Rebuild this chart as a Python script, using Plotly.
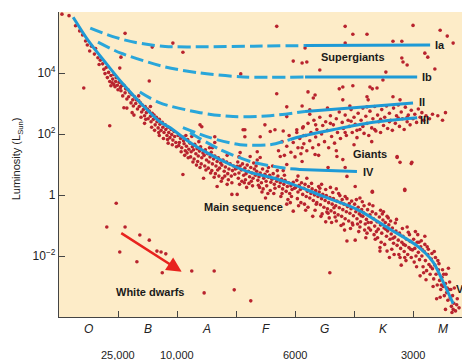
import plotly.graph_objects as go

# ---------------- data (x: spectral position, O=0..1, B=1..2, ...; y: log10 L/Lsun) -------------
spectral_classes = ["O", "B", "A", "F", "G", "K", "M"]
class_centers = [0.5, 1.5, 2.5, 3.5, 4.5, 5.5, 6.5]
boundary_ticks = [1, 2, 3, 4, 5, 6]
temp_positions = [1, 2, 4, 6]
temp_labels = ["25,000", "10,000", "6000", "3000"]
ytick_vals = [4, 2, 0, -2]
ytick_text = ["10<sup>4</sup>", "10<sup>2</sup>", "1", "10<sup>\u22122</sup>"]

# luminosity-class lines
ms_x = [0.24, 0.49, 0.78, 1.07, 1.41, 1.71, 1.88, 2.22, 2.56, 2.90, 3.24, 3.58, 3.92, 4.47, 5.05, 5.61, 6.07, 6.34, 6.51, 6.68]
ms_y = [5.83, 5.08, 4.36, 3.67, 2.96, 2.40, 2.21, 1.72, 1.33, 1.00, 0.74, 0.58, 0.38, -0.04, -0.47, -1.12, -1.67, -2.20, -2.85, -3.56]

ia_dash_x = [0.53, 0.9, 1.3, 1.8, 2.5, 3.3, 4.17]
ia_dash_y = [5.47, 5.2, 5.0, 4.87, 4.86, 4.88, 4.90]
ia_solid_x = [4.17, 6.29]
ia_solid_y = [4.90, 4.92]

ib_dash_x = [0.66, 1.05, 1.8, 2.39, 3.12, 4.17]
ib_dash_y = [5.01, 4.65, 4.20, 4.00, 3.87, 3.87]
ib_solid_x = [4.17, 6.07]
ib_solid_y = [3.87, 3.87]

ii_dash_x = [1.37, 1.71, 2.39, 2.95, 3.58, 4.17]
ii_dash_y = [3.38, 3.02, 2.70, 2.57, 2.60, 2.74]
ii_solid_x = [4.17, 5.1, 6.0]
ii_solid_y = [2.74, 2.88, 3.02]

iii_dash_x = [2.10, 2.56, 3.07, 3.58, 3.92]
iii_dash_y = [2.21, 1.88, 1.65, 1.65, 1.82]
iii_solid_x = [3.92, 4.08, 4.64, 5.27, 6.07]
iii_solid_y = [1.82, 1.91, 2.14, 2.37, 2.53]

iv_dash_x = [2.22, 2.73, 3.24, 3.75, 3.92]
iv_dash_y = [2.04, 1.49, 1.10, 0.90, 0.86]
iv_solid_x = [3.92, 4.08, 5.05]
iv_solid_y = [0.86, 0.84, 0.77]

# stars (estimated by eye)
ms_stars = [
    (0.05, 5.93), (0.17, 5.88), (0.28, 5.55), (0.35, 5.38), (0.40, 5.25), (0.45, 5.05), (0.48, 4.92), (0.55, 4.88),
    (0.52, 4.72), (0.60, 4.62), (0.62, 4.80), (0.66, 4.50), (0.70, 4.42), (0.68, 4.28), (0.74, 4.30), (0.76, 4.12),
    (0.80, 4.18), (0.78, 3.98), (0.84, 4.02), (0.82, 3.85), (0.88, 3.92), (0.86, 3.72), (0.91, 3.80), (0.93, 3.62),
    (0.96, 3.72), (0.95, 3.55), (0.99, 3.60), (1.00, 3.45), (0.90, 3.68), (0.97, 3.85), (1.02, 3.70), (1.04, 3.52),
    (0.88, 3.58), (0.93, 3.95),
    (1.03, 3.70), (1.05, 3.42), (1.06, 3.58), (1.08, 3.25), (1.10, 3.60), (1.12, 3.35), (1.13, 3.48), (1.15, 3.15),
    (1.17, 3.45), (1.18, 3.22), (1.20, 3.36), (1.22, 3.02), (1.23, 3.30), (1.25, 3.12), (1.26, 2.92), (1.28, 3.22),
    (1.30, 3.00), (1.31, 3.12), (1.33, 2.82), (1.35, 3.10), (1.36, 2.90), (1.38, 3.02), (1.40, 2.72), (1.41, 2.95),
    (1.43, 2.80), (1.45, 2.60), (1.46, 2.90), (1.48, 2.70), (1.50, 2.82), (1.51, 2.50), (1.53, 2.75), (1.55, 2.58),
    (1.56, 2.40), (1.58, 2.68), (1.60, 2.48), (1.61, 2.62), (1.63, 2.30), (1.65, 2.55), (1.66, 2.40), (1.68, 2.20),
    (1.70, 2.48), (1.71, 2.32), (1.73, 2.12), (1.75, 2.38), (1.76, 2.22), (1.78, 2.05), (1.80, 2.30), (1.81, 2.15),
    (1.83, 1.95), (1.85, 2.22), (1.86, 2.05), (1.88, 1.88), (1.90, 2.15), (1.91, 1.98), (1.93, 1.80), (1.95, 2.08),
    (1.96, 1.92), (1.98, 1.72), (1.24, 2.70), (1.45, 2.35), (1.70, 1.95), (1.55, 2.90), (1.35, 3.25), (1.85, 1.70),
    (1.15, 2.85),
    (2.02, 1.95), (2.04, 1.72), (2.06, 1.85), (2.08, 1.55), (2.03, 1.62), (2.10, 1.90), (2.12, 1.68), (2.14, 1.45),
    (2.11, 1.78), (2.16, 1.60), (2.18, 1.82), (2.20, 1.50), (2.17, 1.38), (2.22, 1.70), (2.24, 1.42), (2.26, 1.58),
    (2.23, 1.25), (2.28, 1.48), (2.30, 1.66), (2.32, 1.35), (2.29, 1.18), (2.34, 1.52), (2.36, 1.28), (2.38, 1.44),
    (2.35, 1.10), (2.40, 1.58), (2.42, 1.22), (2.44, 1.38), (2.41, 1.02), (2.46, 1.30), (2.48, 1.48), (2.50, 1.15),
    (2.47, 0.95), (2.52, 1.35), (2.54, 1.08), (2.56, 1.25), (2.53, 0.88), (2.58, 1.40), (2.60, 1.02), (2.62, 1.18),
    (2.59, 0.80), (2.64, 1.28), (2.66, 0.95), (2.68, 1.10), (2.65, 0.70), (2.70, 1.22), (2.72, 0.88), (2.74, 1.05),
    (2.71, 0.62), (2.76, 0.98), (2.78, 1.15), (2.80, 0.78), (2.77, 0.55), (2.82, 0.92), (2.84, 1.08), (2.86, 0.70),
    (2.88, 0.85), (2.90, 1.02), (2.92, 0.62), (2.94, 0.80), (2.96, 0.95), (2.98, 0.68), (2.10, 0.67), (2.45, 0.55),
    (2.25, 1.92), (2.60, 1.55),
    (3.01, 0.88), (3.03, 1.08), (3.05, 0.72), (3.07, 0.95), (3.04, 0.55), (3.09, 0.82), (3.11, 1.02), (3.13, 0.65),
    (3.10, 0.45), (3.15, 0.88), (3.17, 0.70), (3.19, 0.98), (3.16, 0.50), (3.21, 0.78), (3.23, 0.60), (3.25, 0.90),
    (3.22, 0.38), (3.27, 0.72), (3.29, 0.55), (3.31, 0.85), (3.28, 0.30), (3.33, 0.65), (3.35, 0.78), (3.37, 0.48),
    (3.34, 0.95), (3.39, 0.60), (3.41, 0.72), (3.43, 0.40), (3.40, 0.25), (3.45, 0.85), (3.47, 0.55), (3.49, 0.68),
    (3.46, 0.20), (3.51, 0.45), (3.53, 0.78), (3.55, 0.58), (3.52, 0.30), (3.57, 0.65), (3.59, 0.42), (3.61, 0.52),
    (3.58, 0.15), (3.63, 0.70), (3.65, 0.35), (3.67, 0.55), (3.64, 0.05), (3.69, 0.45), (3.71, 0.62), (3.73, 0.28),
    (3.70, 0.80), (3.75, 0.40), (3.77, 0.52), (3.79, 0.20), (3.76, -0.05), (3.81, 0.35), (3.83, 0.48), (3.85, 0.12),
    (3.82, 0.65), (3.87, 0.28), (3.89, 0.40), (3.91, 0.05), (3.88, -0.15), (3.93, 0.30), (3.95, 0.18), (3.97, 0.42),
    (3.94, -0.05), (3.99, 0.22), (3.36, 1.15), (3.62, 0.95), (3.18, 0.25), (3.50, -0.10),
    (4.01, 0.25), (4.03, 0.48), (4.05, 0.10), (4.07, 0.32), (4.04, -0.12), (4.09, 0.18), (4.11, 0.40), (4.13, 0.02),
    (4.10, -0.25), (4.15, 0.22), (4.17, 0.35), (4.19, -0.05), (4.16, -0.30), (4.21, 0.12), (4.23, 0.28), (4.25, -0.10),
    (4.22, -0.40), (4.27, 0.05), (4.29, 0.20), (4.31, -0.18), (4.28, 0.38), (4.33, 0.00), (4.35, 0.15), (4.37, -0.25),
    (4.34, -0.50), (4.39, -0.05), (4.41, 0.10), (4.43, -0.32), (4.40, 0.28), (4.45, -0.12), (4.47, 0.02), (4.49, -0.40),
    (4.46, -0.62), (4.51, -0.18), (4.53, -0.02), (4.55, -0.45), (4.52, 0.18), (4.57, -0.25), (4.59, -0.08), (4.61, -0.52),
    (4.58, -0.75), (4.63, -0.30), (4.65, -0.12), (4.67, -0.58), (4.64, 0.08), (4.69, -0.35), (4.71, -0.20), (4.73, -0.65),
    (4.70, -0.85), (4.75, -0.42), (4.77, -0.25), (4.79, -0.70), (4.76, -0.02), (4.81, -0.48), (4.83, -0.30), (4.85, -0.78),
    (4.82, -0.95), (4.87, -0.55), (4.89, -0.38), (4.91, -0.85), (4.88, -0.12), (4.93, -0.60), (4.95, -0.45), (4.97, -0.92),
    (4.94, -1.10), (4.99, -0.68), (4.30, -0.70), (4.60, 0.25), (4.85, -0.05), (4.20, 0.55),
    (5.01, -0.30), (5.03, -0.55), (5.05, -0.78), (5.07, -0.40), (5.04, -0.15), (5.09, -0.62), (5.11, -0.88), (5.13, -0.48),
    (5.10, -1.05), (5.15, -0.70), (5.17, -0.35), (5.19, -0.95), (5.16, -0.58), (5.21, -0.80), (5.23, -0.48), (5.25, -1.08),
    (5.22, -1.25), (5.27, -0.65), (5.29, -0.90), (5.31, -0.55), (5.28, -1.15), (5.33, -0.78), (5.35, -1.02), (5.37, -0.62),
    (5.34, -1.30), (5.39, -0.88), (5.41, -1.12), (5.43, -0.72), (5.40, -1.40), (5.45, -0.98), (5.47, -1.25), (5.49, -0.82),
    (5.46, -1.55), (5.51, -1.08), (5.53, -0.90), (5.55, -1.35), (5.52, -1.62), (5.57, -1.18), (5.59, -0.98), (5.61, -1.45),
    (5.58, -0.75), (5.63, -1.28), (5.65, -1.08), (5.67, -1.58), (5.64, -1.78), (5.69, -1.38), (5.71, -1.18), (5.73, -1.65),
    (5.70, -0.92), (5.75, -1.48), (5.77, -1.25), (5.79, -1.75), (5.76, -1.95), (5.81, -1.55), (5.83, -1.35), (5.85, -1.85),
    (5.82, -1.10), (5.87, -1.65), (5.89, -1.45), (5.91, -1.95), (5.88, -2.15), (5.93, -1.72), (5.95, -1.52), (5.97, -2.05),
    (5.94, -1.30), (5.99, -1.80), (5.20, -1.40), (5.60, -2.05), (5.45, -0.50), (5.80, -2.30),
    (6.01, -1.45), (6.03, -1.75), (6.05, -2.00), (6.02, -2.20), (6.07, -1.55), (6.09, -1.88), (6.11, -2.12), (6.08, -1.30),
    (6.13, -1.70), (6.15, -2.00), (6.17, -2.35), (6.14, -1.50), (6.19, -1.85), (6.21, -2.15), (6.23, -2.48), (6.20, -1.62),
    (6.25, -1.95), (6.27, -2.28), (6.29, -2.60), (6.26, -1.78), (6.31, -2.10), (6.33, -2.42), (6.35, -2.75), (6.32, -1.92),
    (6.37, -2.30), (6.39, -2.60), (6.41, -2.95), (6.38, -2.05), (6.43, -2.45), (6.45, -2.80), (6.47, -3.10), (6.44, -2.25),
    (6.49, -2.70), (6.51, -3.00), (6.53, -3.30), (6.50, -2.45), (6.55, -2.90), (6.57, -3.20), (6.59, -3.45), (6.56, -2.60),
    (6.61, -3.10), (6.63, -3.38), (6.65, -3.65), (6.62, -2.85), (6.67, -3.30), (6.69, -3.55), (6.72, -3.80), (6.70, -3.05),
    (6.75, -3.40), (6.78, -3.70), (6.12, -2.65), (6.40, -3.40), (6.55, -3.75),
    (1.27, 2.62), (1.39, 2.55), (1.47, 2.48), (1.57, 2.22), (1.62, 2.12), (1.69, 2.05), (1.77, 1.85), (1.84, 1.82),
    (1.92, 1.65), (1.99, 1.58), (2.07, 1.42), (2.13, 1.30), (2.19, 1.22), (2.27, 1.08), (2.33, 0.98), (2.39, 0.90),
    (2.49, 0.82), (2.57, 0.72), (2.63, 0.58), (2.69, 0.82), (2.75, 0.45), (2.81, 0.62), (2.87, 0.50), (2.93, 0.40),
    (2.99, 0.85), (3.06, 0.35), (3.14, 0.40), (3.26, 0.45), (3.38, 0.32), (3.44, 0.10), (3.54, 0.05), (3.66, 0.22),
    (3.78, 0.05), (3.92, -0.25), (4.06, -0.35), (4.18, -0.50), (4.36, -0.30), (4.44, -0.70), (4.62, -0.90), (4.78, -1.00),
    (4.96, -0.20), (5.08, -1.20), (5.26, -0.30), (5.36, -1.45), (5.56, -0.70), (5.68, -1.95), (5.86, -2.05), (6.04, -1.20),
    (6.18, -2.55), (6.36, -1.85), (6.46, -3.35), (6.60, -2.40), (6.74, -3.60), (6.66, -3.85),
    (2.15, 1.95), (2.37, 1.75), (2.55, 1.55), (2.85, 1.30), (3.05, 1.25), (3.30, 1.05), (3.55, 0.90), (3.80, 0.80),
    (4.05, 0.62), (4.45, 0.35), (4.70, 0.20), (5.10, -0.10), (5.50, -0.55), (5.90, -1.05), (6.20, -1.35),
    (4.52, -0.88), (4.66, -0.42), (4.74, 0.05), (4.84, -1.15), (4.92, -0.28), (5.06, -0.95), (5.14, -0.22), (5.18, -1.15),
    (5.24, -0.90), (5.32, -0.35), (5.38, -1.20), (5.44, -1.72), (5.48, -0.62), (5.54, -1.12), (5.62, -0.85), (5.66, -1.42),
    (5.72, -0.80), (5.78, -2.05), (5.84, -1.62), (5.92, -1.22), (5.96, -1.78), (6.06, -2.35), (6.10, -1.55), (6.16, -1.80),
    (6.22, -2.78), (6.24, -1.70), (6.30, -2.35), (6.34, -3.00), (6.42, -2.15), (6.48, -2.95), (6.52, -2.60), (6.58, -3.05),
    (6.64, -3.10), (6.68, -3.75), (4.42, 0.22), (4.56, -0.60), (4.68, -0.72), (4.80, -0.15), (4.98, -0.98), (5.12, -0.68),
]

giant_stars = [
    (3.72, 1.45), (3.78, 1.75), (3.82, 1.30), (3.86, 1.60), (3.90, 1.95), (3.93, 1.40), (3.97, 1.72), (4.00, 1.25),
    (4.03, 2.05), (4.05, 1.55), (4.08, 1.85), (4.10, 1.35), (4.13, 2.20), (4.15, 1.68), (4.18, 1.95), (4.20, 1.45),
    (4.22, 2.35), (4.25, 1.78), (4.27, 2.05), (4.30, 1.55), (4.32, 2.45), (4.35, 1.90), (4.37, 2.15), (4.40, 1.65),
    (4.42, 2.55), (4.45, 2.00), (4.47, 2.28), (4.50, 1.75), (4.52, 2.40), (4.55, 2.12), (4.57, 1.55), (4.60, 2.60),
    (4.62, 1.92), (4.65, 2.30), (4.67, 1.70), (4.70, 2.50), (4.72, 2.05), (4.75, 2.72), (4.77, 1.85), (4.80, 2.38),
    (4.82, 2.18), (4.85, 2.62), (4.87, 1.95), (4.90, 2.45), (4.92, 2.25), (4.95, 2.80), (4.97, 2.05), (5.00, 2.55),
    (5.02, 2.32), (5.05, 1.88), (5.07, 2.68), (5.10, 2.15), (5.12, 2.45), (5.15, 2.85), (5.17, 2.02), (5.20, 2.58),
    (5.22, 2.35), (5.25, 1.95), (5.27, 2.75), (5.30, 2.20), (5.32, 2.50), (5.35, 2.90), (5.37, 2.10), (5.40, 2.62),
    (5.42, 2.40), (5.45, 2.05), (5.47, 2.80), (5.50, 2.28), (5.52, 2.55), (5.55, 2.92), (5.57, 2.18), (5.60, 2.68),
    (5.62, 2.45), (5.65, 2.12), (5.67, 2.85), (5.70, 2.35), (5.72, 2.60), (5.75, 2.95), (5.77, 2.25), (5.80, 2.72),
    (5.82, 2.50), (5.85, 2.15), (5.87, 2.88), (5.90, 2.40), (5.92, 2.62), (5.95, 2.30), (5.97, 2.78), (6.00, 2.50),
    (6.03, 2.65), (6.06, 2.38), (6.09, 2.82), (6.12, 2.55), (6.15, 2.70), (6.18, 2.45), (6.22, 2.60), (6.28, 2.50),
    (6.33, 2.65), (4.12, 1.10), (4.40, 1.30), (4.70, 1.45), (5.00, 1.65), (5.30, 1.75), (4.25, 2.65), (4.55, 2.85),
    (3.80, 2.10), (4.60, 2.35), (4.95, 2.42), (5.15, 2.25), (5.45, 2.48), (5.75, 2.52), (4.35, 2.30), (4.85, 2.05),
    (5.60, 2.40), (5.90, 2.55), (5.05, 2.12), (5.35, 2.15), (4.15, 1.95), (6.42, 2.60), (6.50, 2.45), (6.55, 2.70),
]

scattered_stars = [
    (1.12, 5.30), (1.58, 4.85), (1.05, 4.52), (1.03, 4.16), (1.53, 3.74), (0.42, 3.51), (0.86, 2.27), (1.10, 2.86),
    (3.69, 5.53), (1.93, 4.98), (2.10, 4.68), (3.08, 3.97), (3.97, 4.39), (4.12, 4.33), (3.69, 3.32), (3.86, 2.89),
    (3.86, 2.57), (2.42, 2.24), (3.15, 2.14), (3.15, 1.91), (3.41, 1.91), (3.49, 2.30), (3.58, 2.08), (3.66, 2.14),
    (4.03, 2.14), (4.14, 2.24), (2.64, 1.91), (2.64, 1.72), (4.17, 4.82),
    (4.85, 5.53), (4.98, 5.27), (5.22, 5.27), (6.00, 5.56), (6.46, 5.40), (6.58, 5.21), (6.68, 4.98), (4.85, 4.98),
    (5.66, 5.04), (5.81, 5.04), (6.20, 4.65), (6.25, 4.52), (5.81, 4.49), (5.83, 4.36), (5.90, 4.26), (4.20, 4.36),
    (4.42, 4.10), (6.37, 4.13), (5.54, 4.03), (5.49, 3.77), (4.81, 3.54), (4.98, 3.58), (5.27, 3.54), (5.31, 3.48),
    (5.39, 3.51), (4.75, 3.48), (4.22, 3.38), (4.34, 3.28), (4.31, 3.18), (5.22, 3.22), (5.24, 3.12), (5.66, 3.22),
    (5.78, 3.12), (4.81, 3.12), (4.93, 2.92), (5.22, 2.89), (4.12, 2.92), (4.25, 2.79),
    (4.71, 1.26), (5.73, 1.26), (5.78, 1.07), (5.98, 1.07), (4.56, 0.90), (4.12, 1.55), (4.34, 1.33), (4.85, 0.90),
    (4.81, 1.16), (5.73, 1.23), (5.97, 1.03), (5.86, 0.19), (5.02, 0.28), (5.31, 0.09), (4.59, -2.55), (4.88, 0.61),
    (2.39, 2.30), (3.12, 2.14), (3.02, 0.94), (3.07, 1.39), (3.36, 1.42), (3.41, 1.23), (3.75, 1.26), (3.86, 1.00),
    (3.24, 1.26), (2.68, 0.28), (2.85, 0.35), (2.93, 0.02), (3.02, 0.02), (3.86, -0.30), (3.97, -0.53),
    (4.54, -0.56), (4.88, -1.51), (5.02, -1.48), (5.44, -1.84), (5.56, -1.84), (5.31, 0.12), (5.86, 0.15),
]

white_dwarf_stars = [
    (0.97, -0.27), (0.81, -1.05), (1.12, -1.05), (1.03, -1.87), (1.32, -2.19), (1.37, -1.31), (1.53, -1.48),
    (1.66, -1.84), (1.73, -1.87), (1.81, -1.93), (1.75, -2.55), (2.25, -2.49), (2.63, -2.49), (2.46, -3.21),
    (2.97, -3.11), (3.25, -3.47),
]

region_labels = ["Supergiants", "Giants", "Main sequence", "White dwarfs"]
region_label_pos = [(4.98, 4.52), (5.27, 1.33), (3.12, -0.40), (1.54, -3.17)]
class_labels = ["Ia", "Ib", "II", "III", "IV", "V"]
class_label_pos = [(6.34, 4.91), (6.11, 3.87), (6.06, 3.05), (6.09, 2.47), (5.11, 0.77), (6.69, -3.08)]
arrow_tail = (1.03, -1.22)
arrow_head = (2.08, -2.52)

# ---------------- figure ----------------
BG = "#FDECC8"
LINE = "#1E9AD6"
DASHLINE = "#29A6DA"
DOT = "#B8232E"
FONT = "Liberation Sans, Arial, sans-serif"

fig = go.Figure()

all_stars = ms_stars + giant_stars + scattered_stars + white_dwarf_stars
fig.add_trace(go.Scatter(
    x=[p[0] for p in all_stars], y=[p[1] for p in all_stars], mode="markers",
    marker=dict(size=3.6, color=DOT, line=dict(width=0)), hoverinfo="skip"))

dash_sets = [(ia_dash_x, ia_dash_y), (ib_dash_x, ib_dash_y), (ii_dash_x, ii_dash_y),
             (iii_dash_x, iii_dash_y), (iv_dash_x, iv_dash_y)]
solid_sets = [(ia_solid_x, ia_solid_y), (ib_solid_x, ib_solid_y), (ii_solid_x, ii_solid_y),
              (iii_solid_x, iii_solid_y), (iv_solid_x, iv_solid_y), (ms_x, ms_y)]
for xs, ys in dash_sets:
    fig.add_trace(go.Scatter(x=xs, y=ys, mode="lines",
                             line=dict(color=DASHLINE, width=3, dash="13px,5px", shape="spline", smoothing=0.8),
                             hoverinfo="skip"))
for xs, ys in solid_sets:
    fig.add_trace(go.Scatter(x=xs, y=ys, mode="lines",
                             line=dict(color=LINE, width=3, shape="spline", smoothing=0.8),
                             hoverinfo="skip"))

ann = []
for txt, (x, y) in zip(region_labels, region_label_pos):
    ann.append(dict(x=x, y=y, xref="x", yref="y", text="<b>" + txt + "</b>", showarrow=False,
                    font=dict(size=11, color="#1a1a1a", family=FONT), xanchor="center", yanchor="middle"))
for txt, (x, y) in zip(class_labels, class_label_pos):
    ann.append(dict(x=x, y=y, xref="x", yref="y", text="<b>" + txt + "</b>", showarrow=False,
                    font=dict(size=11, color="#1a1a1a", family=FONT), xanchor="left", yanchor="middle"))
for txt, x in zip(spectral_classes, class_centers):
    ann.append(dict(x=x, y=-0.039, xref="x", yref="paper", text="<i>" + txt + "</i>", showarrow=False,
                    font=dict(size=12, color="#222", family=FONT), xanchor="center", yanchor="middle"))
for txt, x in zip(temp_labels, temp_positions):
    ann.append(dict(x=x, y=-0.125, xref="x", yref="paper", text=txt, showarrow=False,
                    font=dict(size=11, color="#222", family=FONT), xanchor="center", yanchor="middle"))
ann.append(dict(x=-0.102, y=0.52, xref="paper", yref="paper", text="Luminosity (L<sub>Sun</sub>)",
                showarrow=False, textangle=-90, font=dict(size=11, color="#222", family=FONT),
                xanchor="center", yanchor="middle"))
ann.append(dict(x=arrow_head[0], y=arrow_head[1], ax=arrow_tail[0], ay=arrow_tail[1],
                xref="x", yref="y", axref="x", ayref="y", text="", showarrow=True,
                arrowhead=2, arrowsize=1.2, arrowwidth=2.5, arrowcolor="#E8231E"))

fig.update_layout(
    width=462, height=360,
    margin=dict(l=59, r=0, t=12, b=43),
    paper_bgcolor="white", plot_bgcolor=BG,
    showlegend=False,
    annotations=ann,
    font=dict(family=FONT, size=12, color="#222"),
    xaxis=dict(range=[0, 6.83], showgrid=False, zeroline=False, tickvals=boundary_ticks,
               showticklabels=False, ticks="inside", ticklen=6, tickwidth=1.2,
               tickcolor="#444", showline=True, linecolor="#444", linewidth=1.2, fixedrange=True),
    yaxis=dict(range=[-4, 6], showgrid=False, zeroline=False, tickvals=ytick_vals, ticktext=ytick_text,
               ticks="inside", ticklen=6, tickwidth=1.2, tickcolor="#444", showline=True,
               linecolor="#444", linewidth=1.2, tickfont=dict(size=12, color="#222"), fixedrange=True),
)

fig.write_html("out.html", config={"displayModeBar": False},
               post_script="document.body.style.margin='0';document.body.style.overflow='hidden';")
